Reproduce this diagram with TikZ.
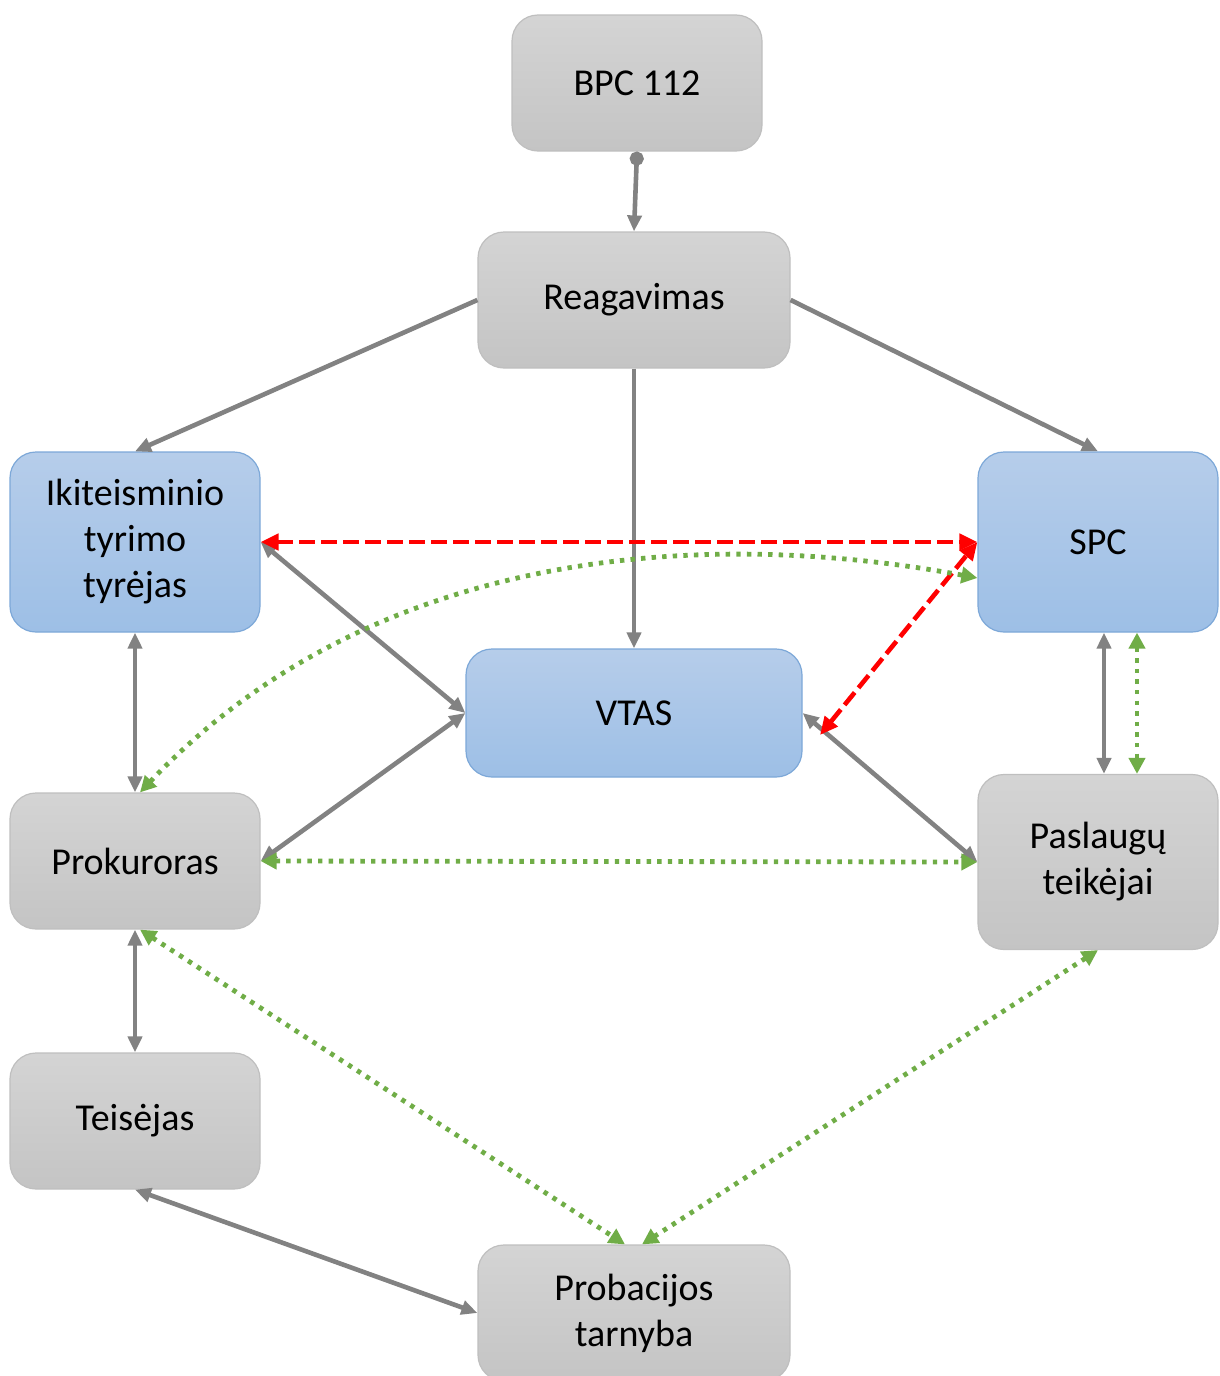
\documentclass[tikz,border=0pt]{standalone}
\usepackage{fontspec}
\setmainfont{Carlito}
\usepackage{tikz}
\usetikzlibrary{arrows.meta}
\definecolor{boxgray}{HTML}{D4D4D4}
\definecolor{boxgraydark}{HTML}{C4C4C4}
\definecolor{boxblue}{HTML}{B6CDEA}
\definecolor{boxbluedark}{HTML}{9DBFE6}
\definecolor{lineblue}{HTML}{7DA8D8}
\definecolor{linkgray}{HTML}{828282}
\definecolor{linkgreen}{HTML}{70AD47}

\begin{document}
\begin{tikzpicture}[x=0.5pt, y=-0.5pt,
    every node/.style={font=\fontsize{19}{23}\selectfont, align=center},
    graybox/.style={draw=black!25, line width=0.6pt, rounded corners=13pt, top color=boxgray, bottom color=boxgraydark, minimum width=125pt, minimum height=68pt},
    bluebox/.style={draw=lineblue, line width=0.6pt, rounded corners=13pt, top color=boxblue, bottom color=boxbluedark, minimum width=125pt, minimum height=90pt},
    link/.style={linkgray, line width=2.3pt, {Triangle[length=8pt,width=7pt]}-{Triangle[length=8pt,width=7pt]}},
    onelink/.style={linkgray, line width=2.3pt, -{Triangle[length=8pt,width=7pt]}},
    redlink/.style={red, line width=2.3pt, dash pattern=on 8pt off 3pt, {Triangle[length=9pt,width=8pt]}-{Triangle[length=9pt,width=8pt]}},
    greenlink/.style={linkgreen, line width=2.4pt, dash pattern=on 2.2pt off 3.1pt, {Triangle[length=8pt,width=8pt]}-{Triangle[length=8pt,width=8pt]}}]
    \useasboundingbox (0,0) rectangle (1220,1376);
    % boxes
    \node[graybox] (bpc) at (637,83) {BPC 112};
    \node[graybox, minimum width=156pt] (reag) at (634,300) {Reagavimas};
    \node[bluebox] (ikit) at (135,542) {Ikiteisminio\\tyrimo\\tyrėjas};
    \node[bluebox, minimum width=120pt] (spc) at (1098,542) {SPC};
    \node[bluebox, minimum width=168pt, minimum height=64pt] (vtas) at (634,713) {VTAS};
    \node[graybox] (prok) at (135,861) {Prokuroras};
    \node[graybox, minimum width=120pt, minimum height=87.5pt] (pasl) at (1098,862) {Paslaugų\\teikėjai};
    \node[graybox] (teis) at (135,1121) {Teisėjas};
    \node[graybox, minimum width=156pt] (prob) at (634,1313) {Probacijos\\tarnyba};
    \coordinate (vtasr) at (820,735);
    % gray links
    \draw[onelink, {Circle[length=7pt]}-{Triangle[length=8pt,width=7pt]}] (bpc.south) -- (reag.north);
    \draw[onelink] (reag.west) -- (ikit.north);
    \draw[onelink] (reag.east) -- (spc.north);
    \draw[onelink] (reag.south) -- (vtas.north);
    \draw[link] (ikit.east) -- (vtas.west);
    \draw[link] (prok.east) -- (vtas.west);
    \draw[link] (vtas.east) -- (pasl.west);
    \draw[link] (ikit.south) -- (prok.north);
    \draw[link] (prok.south) -- (teis.north);
    \draw[link] (teis.south) -- (prob.west);
    \draw[link] ([xshift=3pt]spc.south) -- ([xshift=3pt]pasl.north);
    % red links
    \draw[redlink] (ikit.east) -- (spc.west);
    \draw[redlink] (vtasr) -- (spc.west);
    % green links
    \draw[greenlink] ([xshift=2.5pt]prok.north) .. controls (380,540) and (720,530) .. ([yshift=-18pt]spc.west);
    \draw[greenlink] (prok.east) -- (pasl.west);
    \draw[greenlink] ([xshift=2.5pt]prok.south) -- ([xshift=-4.5pt]prob.north);
    \draw[greenlink] (pasl.south) -- ([xshift=4pt]prob.north);
    \draw[greenlink] ([xshift=19.5pt]spc.south) -- ([xshift=19.5pt]pasl.north);
\end{tikzpicture}
\end{document}
